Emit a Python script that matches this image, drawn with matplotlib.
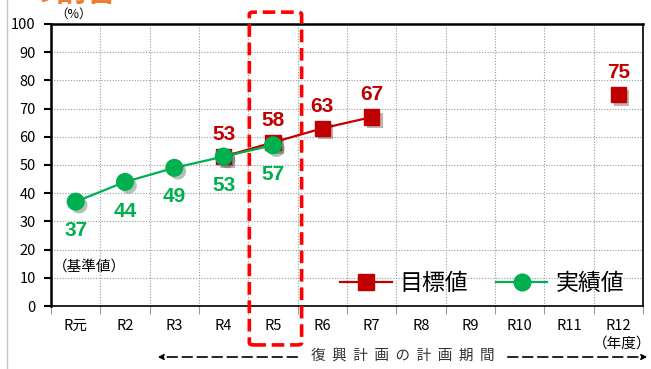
import matplotlib.pyplot as plt
import matplotlib.patheffects as pe
from matplotlib.patches import FancyBboxPatch, FancyArrowPatch
from matplotlib.lines import Line2D

plt.rcParams['font.family'] = ['Noto Sans CJK JP', 'DejaVu Sans']

# --- DATA ---
years = ["R元", "R2", "R3", "R4", "R5", "R6", "R7", "R8", "R9", "R10", "R11", "R12"]
target_idx = [3, 4, 5, 6]
target_vals = [53, 58, 63, 67]
final_idx = 11
final_val = 75
actual_idx = [0, 1, 2, 3, 4]
actual_vals = [37, 44, 49, 53, 57]

RED = "#c00000"
GREEN = "#00b050"
num_font = ['Liberation Sans Narrow', 'Liberation Sans', 'DejaVu Sans']

fig = plt.figure(figsize=(6.51, 3.69), dpi=100)
ax = fig.add_axes([51 / 651, 1 - 306 / 369, 592 / 651, 282 / 369])

shadow = [pe.SimplePatchShadow(offset=(2.5, -2.5), alpha=0.3), pe.Normal()]

# target series (red squares) - lines first, markers with drop shadow on top
ax.plot(target_idx, target_vals, color=RED, lw=1.6, zorder=3)
ax.plot(target_idx + [final_idx], target_vals + [final_val], ls="none",
        marker="s", ms=11, mfc=RED, mec=RED, zorder=4, path_effects=shadow)

# actual series (green circles)
ax.plot(actual_idx, actual_vals, color=GREEN, lw=1.6, zorder=5)
ax.plot(actual_idx, actual_vals, ls="none", marker="o", ms=12,
        mfc=GREEN, mec=GREEN, zorder=6, path_effects=shadow)

for x, v in zip(target_idx + [final_idx], target_vals + [final_val]):
    ax.annotate(str(v), (x, v), xytext=(0, 16), textcoords="offset points",
                ha="center", va="center", color=RED, fontsize=15,
                fontweight="bold", family=num_font)
for x, v in zip(actual_idx, actual_vals):
    ax.annotate(str(v), (x, v), xytext=(0, -21), textcoords="offset points",
                ha="center", va="center", color=GREEN, fontsize=15,
                fontweight="bold", family=num_font)

# axes, grid
ax.set_xlim(-0.5, 11.5)
ax.set_ylim(0, 100)
ax.set_yticks(range(0, 101, 10))
ax.set_xticks(range(len(years)))
ax.set_xticklabels(years)
ax.set_xticks([i + 0.5 for i in range(-1, 12)], minor=True)
ax.tick_params(axis="y", which="major", direction="out", length=5, width=1.5,
               labelsize=10.5, pad=6)
ax.tick_params(axis="x", which="major", length=0, labelsize=10.5, pad=9)
ax.tick_params(axis="x", which="minor", length=6, width=0.8, color="#9a9a9a")
ax.grid(True, axis="y", ls=(0, (1, 1.5)), color="#9a9a9a", lw=0.8)
ax.grid(True, axis="x", which="minor", ls=(0, (1, 1.5)), color="#9a9a9a", lw=0.8)
for s in ax.spines.values():
    s.set_color("black")
ax.spines["left"].set_linewidth(1.8)
ax.spines["top"].set_linewidth(1.8)
ax.spines["right"].set_linewidth(1.2)
ax.spines["bottom"].set_linewidth(1.2)

# legend
handles = [Line2D([], [], color=RED, lw=1.6, marker="s", ms=11),
           Line2D([], [], color=GREEN, lw=1.6, marker="o", ms=12)]
ax.legend(handles, ["目標値", "実績値"], loc="center right", ncol=2,
          frameon=False, fontsize=16.5, handlelength=2.25, handletextpad=0.35,
          columnspacing=1.2, borderpad=0.2, bbox_to_anchor=(0.995, 0.08))

# current-year highlight box
box = FancyBboxPatch((3.52, -13.8), 1.06, 118,
                     boxstyle="round,pad=0,rounding_size=0.08",
                     transform=ax.transData, clip_on=False, fill=False,
                     ec="#ff0000", lw=2.6, ls=(0, (3.5, 1.6)), zorder=7,
                     mutation_aspect=10)
ax.add_patch(box)

# annotations
fig.text(74 / 651, 1 - 14 / 369, "（%）", fontsize=9, ha="center", va="center")
ax.text(-0.46, 14, "（基準値）", fontsize=10.5, ha="left", va="center")
fig.text(1.0, 1 - 344 / 369, "（年度）", fontsize=10.5, ha="right", va="center")
fig.text(25 / 651, 1 - 2 / 369, "の割合", fontsize=22, fontweight="bold",
         color="#ed7d31", ha="left", va="baseline")

# planning period arrow
y_arrow = 1 - 357 / 369
fig.add_artist(FancyArrowPatch((300 / 651, y_arrow), (155 / 651, y_arrow),
                               arrowstyle="-|>", mutation_scale=8, lw=1.2,
                               ls=(0, (6, 3)), color="black",
                               transform=fig.transFigure))
fig.add_artist(FancyArrowPatch((505 / 651, y_arrow), (650 / 651, y_arrow),
                               arrowstyle="-|>", mutation_scale=8, lw=1.2,
                               ls=(0, (6, 3)), color="black",
                               transform=fig.transFigure))
fig.text(403 / 651, y_arrow, "復  興  計  画  の  計  画  期  間", fontsize=10.5,
         ha="center", va="center", color="#333333")

fig.add_artist(Line2D([7 / 651, 7 / 651], [0, 1], color="#c8c8c8", lw=1,
                      transform=fig.transFigure))

fig.savefig("out.png", dpi=100)
